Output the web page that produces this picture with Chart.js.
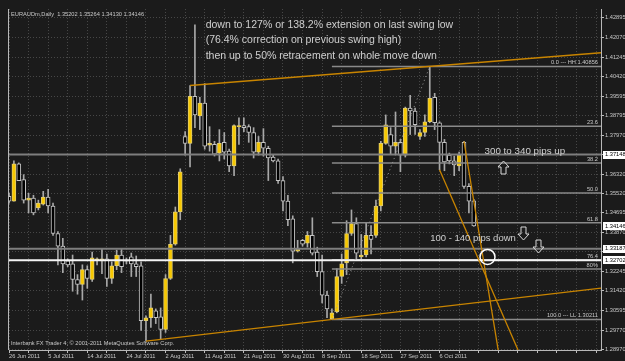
<!DOCTYPE html>
<html><head><meta charset="utf-8">
<script src="https://cdn.jsdelivr.net/npm/chart.js"></script>
<style>html,body{margin:0;padding:0;background:#1b1b1b;overflow:hidden}canvas{display:block}</style>
</head><body><canvas id="c" width="625" height="361"></canvas>
<script>
// ---- data ----
const symbolTitle = 'EURAUDm,Daily';
const dateLabels = ['26 Jun 2011','5 Jul 2011','14 Jul 2011','24 Jul 2011','2 Aug 2011','11 Aug 2011','21 Aug 2011','30 Aug 2011','8 Sep 2011','18 Sep 2011','27 Sep 2011','6 Oct 2011'];
const openP = [1.35397,1.35191,1.36756,1.36097,1.35232,1.35314,1.34902,1.35067,1.35356,1.34985,
1.33831,1.33296,1.32678,1.32554,1.31895,1.31689,1.32307,1.31895,1.32719,1.32678,
1.32760,1.31936,1.32472,1.32925,1.32678,1.32843,1.32554,1.32472,1.30165,1.30288,
1.30577,1.30329,1.29794,1.31936,1.33378,1.34738,1.37910,1.37622,1.39599,1.38775,
1.39311,1.37539,1.37580,1.37210,1.37663,1.37292,1.36674,1.38322,1.38363,1.38322,
1.38075,1.37251,1.37663,1.37416,1.37045,1.36880,1.36056,1.35191,1.34449,1.33090,
1.33543,1.33419,1.33749,1.33049,1.32225,1.31236,1.30247,1.30535,1.32019,1.32595,
1.33831,1.34243,1.32843,1.32925,1.33749,1.33749,1.34985,1.37622,1.37992,1.37498,
1.37663,1.37127,1.39105,1.38981,1.37910,1.38075,1.38528,1.39558,1.38487,1.37663,
1.37127,1.36880,1.36674,1.37663,1.35809,1.35202];
const highP = [1.35520,1.36880,1.36798,1.36303,1.35520,1.35438,1.35232,1.35603,1.35685,1.35108,
1.33914,1.33625,1.32760,1.32925,1.32101,1.32513,1.32472,1.33049,1.32801,1.33172,
1.32966,1.32637,1.33131,1.33172,1.32801,1.33007,1.32884,1.32637,1.30371,1.31277,
1.30659,1.30700,1.32101,1.33749,1.34944,1.36550,1.38116,1.40052,1.42606,1.39558,
1.40135,1.38322,1.37704,1.38198,1.38075,1.37374,1.38404,1.38693,1.38693,1.38404,
1.38281,1.37910,1.38239,1.37498,1.37127,1.36962,1.36221,1.35438,1.34573,1.33543,
1.33584,1.33914,1.34490,1.33255,1.32925,1.31401,1.30659,1.32348,1.32966,1.34367,
1.34820,1.34490,1.33790,1.34284,1.34161,1.35232,1.37704,1.38816,1.38281,1.38940,
1.37786,1.39146,1.39640,1.39105,1.38198,1.38816,1.40856,1.39723,1.38528,1.37786,
1.37210,1.37086,1.37251,1.37704,1.35932,1.35264];
const lowP = [1.35108,1.35191,1.36056,1.35108,1.34696,1.34614,1.34820,1.35026,1.34696,1.33749,
1.32513,1.32183,1.32431,1.31401,1.31277,1.31030,1.31524,1.31813,1.32513,1.32142,
1.31607,1.31730,1.32307,1.32183,1.32554,1.32019,1.32019,1.29752,1.29299,1.29876,
1.30041,1.29382,1.29670,1.31895,1.33337,1.34408,1.37127,1.36633,1.38281,1.38198,
1.37374,1.37292,1.37086,1.36880,1.36962,1.36427,1.36262,1.37580,1.38116,1.37663,
1.37004,1.37127,1.37086,1.36056,1.36839,1.35932,1.34779,1.34161,1.32595,1.33049,
1.33296,1.33255,1.32925,1.32019,1.30906,1.30288,1.30211,1.30494,1.31730,1.32101,
1.33749,1.32760,1.32760,1.32843,1.32966,1.33667,1.34779,1.37580,1.37168,1.37168,
1.36427,1.37045,1.37992,1.37992,1.37786,1.37910,1.38487,1.38198,1.36509,1.36468,
1.36756,1.36262,1.36468,1.35726,1.34696,1.34130];
const closeP = [1.35191,1.36756,1.36056,1.35232,1.35314,1.34696,1.35108,1.35356,1.34985,1.33831,
1.33296,1.32554,1.32513,1.31895,1.31689,1.32307,1.31936,1.32801,1.32722,1.32760,
1.31936,1.32472,1.32925,1.32431,1.32670,1.32554,1.32431,1.30165,1.30288,1.30700,
1.30288,1.29794,1.31936,1.33378,1.34738,1.36427,1.37622,1.39599,1.38816,1.39311,
1.37498,1.37622,1.37168,1.37622,1.37251,1.36674,1.38363,1.38340,1.38281,1.38075,
1.37251,1.37663,1.37416,1.37004,1.36880,1.36056,1.35191,1.34408,1.33090,1.33172,
1.33378,1.33749,1.33007,1.32225,1.31236,1.30659,1.30494,1.32019,1.32554,1.33831,
1.34243,1.33007,1.32925,1.33749,1.33584,1.34985,1.37622,1.38404,1.37498,1.37663,
1.37127,1.39105,1.38981,1.38404,1.38075,1.38528,1.39517,1.38487,1.37663,1.36839,
1.36880,1.36715,1.37127,1.35809,1.35191,1.34146];

const yTicks = [1.42895,1.42070,1.41245,1.40420,1.39595,1.38795,1.37970,1.37145,1.36320,1.35520,1.34695,1.33870,1.33070,1.32245,1.31420,1.30595,1.29770,1.28970];
const hiddenTickLabels = [1.37145,1.33070];
const markedPrices = [1.37148,1.34146,1.33187,1.32702];
const hLinePrices = [1.37148,1.33187,1.32702];

const fibHigh = 1.40856, fibLow = 1.30211, fibStartBar = 66, fibEndBar = 86;
const fibRatios = [0,23.6,38.2,50,61.8,76.4,80,100];
const fibLabels = ['0.0 --- HH 1.40856','23.6','38.2','50.0','61.8','76.4','80%','100.0 --- LL 1.30211'];

const upperTrend = [[37,1.40052],[86,1.40856]];
const lowerTrend = [[28,1.29299],[66,1.30211]];
const fallA = [[93,1.37704],[100,1.28912]];
const fallB = [[88,1.36509],[104,1.28949]];
const circleMark = [{x:97.8,y:1.32843}];

const notes = [
 {text:'down to 127% or 138.2% extension on last swing low', bar:40.2, price:1.42606, size:10.5},
 {text:'(76.4% correction on previous swing high)', bar:40.2, price:1.41947, size:10.5},
 {text:'then up to 50% retracement on whole move down', bar:40.2, price:1.41288, size:10.5},
 {text:'300 to 340 pips up', bar:97.2, price:1.37292, size:9.8},
 {text:'100 - 140 pips down', bar:86.1, price:1.33625, size:9.5}
];
const arrowNotes = [
 {dir:'up', bar:100.9, price:1.36633},
 {dir:'down', bar:105.1, price:1.33837},
 {dir:'down', bar:108.1, price:1.33311}
];
const footerText = 'Interbank FX Trader 4, \u00A9 2001-2011 MetaQuotes Software Corp.';

// ---- chart ----
const X_MAX = 121, Y_MIN = 1.2893, Y_MAX = 1.4327;
const BG = '#1b1b1b', TXT = '#c8c8c8', SMALL = '5.7px "Liberation Sans"';

const isBull = closeP.map((c,i)=> c >= openP[i]);
const bodyData = openP.map((o,i)=>({x:i, y:[o, closeP[i]]}));
const wickData = lowP.map((l,i)=>({x:i, y:[l, highP[i]]}));

function ray(a, b, xEnd){ const s=(b[1]-a[1])/(b[0]-a[0]); return [{x:a[0],y:a[1]},{x:xEnd,y:a[1]+s*(xEnd-a[0])}]; }
function lineDs(data, color, width, dash, order){
  return {type:'line', data, borderColor:color, borderWidth:width, borderDash:dash||[], pointRadius:0, fill:false, tension:0, order:order||1};
}

const datasets = [
 {type:'bar', data:bodyData, backgroundColor:isBull.map(b=>b?'#f7c800':'#000000'), borderColor:isBull.map(b=>b?'#e0cc70':'#c4c4c4'),
  borderWidth:1, borderSkipped:false, barThickness:4, minBarLength:1, grouped:false, order:5},
 {type:'bar', data:wickData, backgroundColor:'#a8a8a8', barThickness:1, grouped:false, order:6}
];
hLinePrices.forEach((p,i)=>{
  const white = i===hLinePrices.length-1;
  datasets.push(lineDs([{x:0,y:p},{x:X_MAX,y:p}], white?'#f4f4f4':'#7e7e7e', 2, [], 2));
});
fibRatios.forEach(r=>{
  const p = fibHigh - r/100*(fibHigh-fibLow);
  datasets.push(lineDs([{x:fibStartBar,y:p},{x:X_MAX,y:p}], '#8a8a8a', 1.5, [], 3));
});
datasets.push(lineDs([{x:fibStartBar,y:fibLow},{x:fibEndBar,y:fibHigh}], '#9a9a9a', 1, [1,3], 1));
const orange = '#c88400';
datasets.push(lineDs(ray(upperTrend[0],upperTrend[1],X_MAX), orange, 1.3, [], 1));
datasets.push(lineDs(ray(lowerTrend[0],lowerTrend[1],X_MAX), orange, 1.3, [], 1));
datasets.push(lineDs(ray(fallA[0],fallA[1],fallA[1][0]+3), orange, 1.3, [], 1));
datasets.push(lineDs(ray(fallB[0],fallB[1],fallB[1][0]+5), orange, 1.3, [], 1));
datasets.push({type:'line', data:circleMark, showLine:false, pointRadius:7.5, pointBorderColor:'#ffffff', pointBorderWidth:1.5, pointBackgroundColor:'rgba(0,0,0,0)', order:0});

function drawArrow(c, cx, cy, dir){
  // outlined block arrow, 11px wide, 13px tall
  const w=5.5, sw=2.5, h=6.5, head=6;
  const s = dir==='up' ? -1 : 1;
  const tipY = cy + s*h, baseY = cy - s*h, neckY = tipY - s*head;
  c.beginPath();
  c.moveTo(cx, tipY);
  c.lineTo(cx+w, neckY); c.lineTo(cx+sw, neckY); c.lineTo(cx+sw, baseY);
  c.lineTo(cx-sw, baseY); c.lineTo(cx-sw, neckY); c.lineTo(cx-w, neckY);
  c.closePath(); c.stroke();
}

const overlay = {
  id:'overlay',
  beforeDraw(chart){ const c=chart.ctx; c.save(); c.fillStyle=BG; c.fillRect(0,0,chart.width,chart.height); c.restore(); },
  afterDatasetsDraw(chart){
    const {ctx:c, chartArea:a, scales:{x,y}} = chart;
    c.save();
    c.beginPath(); c.rect(a.left,a.top,a.right-a.left,a.bottom-a.top); c.clip();
    c.fillStyle = TXT; c.font = SMALL; c.textAlign='right'; c.textBaseline='bottom';
    fibRatios.forEach((r,i)=>{ const p = fibHigh - r/100*(fibHigh-fibLow); c.fillText(fibLabels[i], a.right-3, y.getPixelForValue(p)-1); });
    c.textAlign='left'; c.textBaseline='middle'; c.fillStyle='#cfcfcf';
    notes.forEach(n=>{ c.font = n.size+'px "Liberation Sans"'; c.fillText(n.text, x.getPixelForValue(n.bar), y.getPixelForValue(n.price)); });
    c.strokeStyle='#d8d8d8'; c.lineWidth=1;
    arrowNotes.forEach(n=>drawArrow(c, Math.round(x.getPixelForValue(n.bar))+0.5, Math.round(y.getPixelForValue(n.price))+0.5, n.dir));
    c.font = SMALL; c.textAlign='left'; c.fillStyle=TXT;
    const last = openP.length-1;
    c.fillText(symbolTitle+'  '+[openP[last],highP[last],lowP[last],closeP[last]].map(v=>v.toFixed(5)).join(' '), a.left+2, a.top+5);
    c.fillText(footerText, a.left+2, a.bottom-7);
    c.restore();
  },
  afterDraw(chart){
    const {ctx:c, chartArea:a, scales:{y}} = chart;
    c.save();
    c.strokeStyle='#b8b8b8'; c.lineWidth=1;
    c.beginPath(); c.moveTo(a.left-0.5,a.top); c.lineTo(a.left-0.5,a.bottom); c.stroke();
    c.font = SMALL; c.textBaseline='middle'; c.textAlign='left';
    markedPrices.forEach(p=>{
      const py = y.getPixelForValue(p);
      c.fillStyle='#ffffff'; c.fillRect(a.right+2, Math.round(py)-4, 30, 8);
      c.fillStyle='#000000'; c.fillText(p.toFixed(5), a.right+4, py);
    });
    c.restore();
  }
};

new Chart(document.getElementById('c'), {
  type:'bar',
  data:{datasets},
  options:{
    responsive:false, animation:false, devicePixelRatio:1,
    layout:{padding:{left:2, top:2, right:0, bottom:0}},
    plugins:{legend:{display:false}, tooltip:{enabled:false}},
    scales:{
      x:{type:'linear', min:0, max:X_MAX, offset:false,
        afterBuildTicks:s=>{ const t=[]; for(let v=0; v<=X_MAX-1; v+=4) t.push({value:v}); s.ticks=t; },
        afterFit:s=>{ s.height=11; },
        ticks:{align:'start', maxRotation:0, minRotation:0, autoSkip:false, padding:0, color:TXT, font:{family:'Liberation Sans', size:5.7},
          callback:v=> (v%8===0 && dateLabels[v/8]) ? dateLabels[v/8] : ''},
        grid:{color:'#474747', offset:false, tickLength:3, tickColor:'#bdbdbd'},
        border:{display:true, color:'#b8b8b8', dash:[1,2]}
      },
      y:{type:'linear', position:'right', min:Y_MIN, max:Y_MAX,
        afterBuildTicks:s=>{ s.ticks = yTicks.map(v=>({value:v})); },
        afterFit:s=>{ s.width=24; },
        ticks:{autoSkip:false, padding:1, color:TXT, font:{family:'Liberation Sans', size:5.7},
          callback:v=> hiddenTickLabels.includes(v) ? '' : v.toFixed(5)},
        grid:{color:'#474747', tickLength:3, tickColor:'#bdbdbd'},
        border:{display:true, color:'#b8b8b8', dash:[1,2]}
      }
    }
  },
  plugins:[overlay]
});
</script>
</body></html>
